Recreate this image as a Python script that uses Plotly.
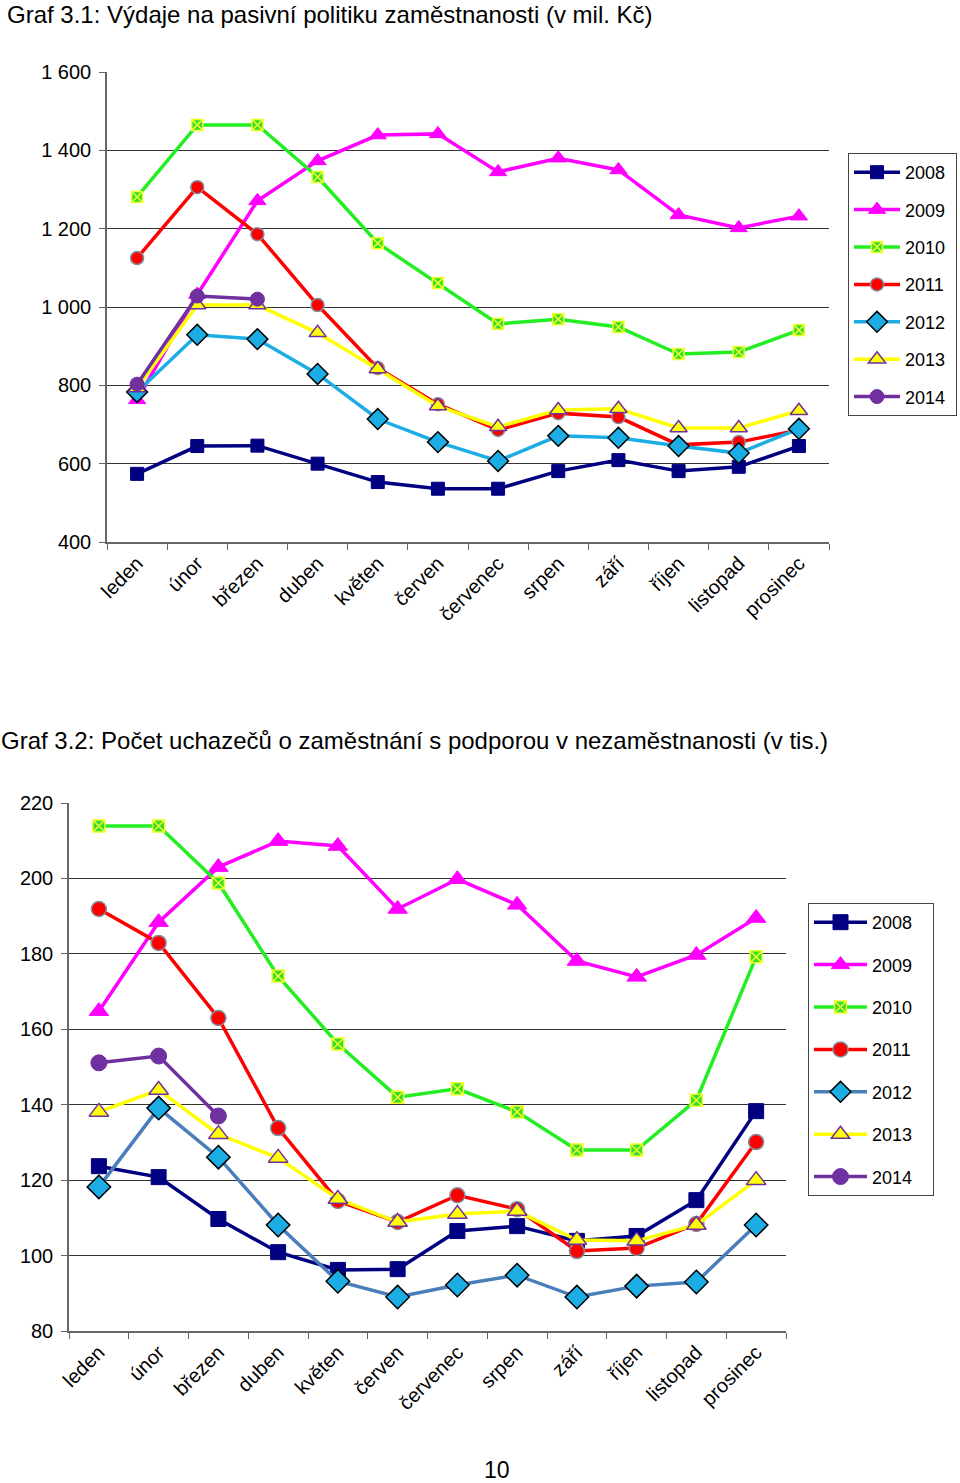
import plotly.graph_objects as go

months = ["leden", "únor", "březen", "duben", "květen", "červen", "červenec",
          "srpen", "září", "říjen", "listopad", "prosinec"]
years = ["2008", "2009", "2010", "2011", "2012", "2013", "2014"]

# Graf 3.1 – výdaje (mil. Kč)
exp_2008 = [574, 645, 646, 600, 553, 536, 536, 581, 609, 581, 592, 645]
exp_2009 = [763, 1032, 1271, 1373, 1439, 1442, 1345, 1380, 1350, 1235, 1202, 1232]
exp_2010 = [1281, 1465, 1465, 1332, 1163, 1061, 957, 969, 949, 880, 885, 941]
exp_2011 = [1125, 1306, 1186, 1005, 844, 752, 686, 729, 719, 648, 655, 686]
exp_2012 = [783, 929, 918, 829, 714, 655, 607, 671, 666, 645, 627, 689]
exp_2013 = [793, 1005, 1005, 934, 842, 747, 694, 737, 740, 691, 691, 735]
exp_2014 = [803, 1028, 1020]

# Graf 3.2 – uchazeči (tis.)
cnt_2008 = [123.7, 120.8, 109.7, 100.9, 96.2, 96.4, 106.5, 107.8, 103.9, 105.2, 114.7, 138.3]
cnt_2009 = [164.8, 188.4, 203.0, 209.9, 208.6, 191.9, 199.8, 193.0, 178.1, 173.9, 179.7, 189.5]
cnt_2010 = [213.9, 213.9, 198.8, 174.1, 156.1, 142.0, 144.2, 138.1, 128.0, 128.0, 141.2, 179.2]
cnt_2011 = [191.9, 182.9, 163.0, 133.8, 114.5, 108.9, 116.0, 112.3, 101.2, 102.0, 108.4, 130.1]
cnt_2012 = [118.2, 139.1, 126.1, 108.1, 93.2, 89.0, 92.2, 94.8, 89.0, 91.9, 93.0, 108.1]
cnt_2013 = [138.1, 143.9, 132.2, 125.9, 115.0, 108.9, 111.0, 111.8, 104.1, 103.9, 108.1, 120.0]
cnt_2014 = [151.1, 152.9, 137.0]

y1_ticks = [400, 600, 800, 1000, 1200, 1400, 1600]
y1_labels = ["400", "600", "800", "1 000", "1 200", "1 400", "1 600"]
y2_ticks = [80, 100, 120, 140, 160, 180, 200, 220]

title1 = "Graf 3.1: Výdaje na pasivní politiku zaměstnanosti (v mil. Kč)"
title2 = "Graf 3.2: Počet uchazečů o zaměstnání s podporou v nezaměstnanosti (v tis.)"

FONT = "Liberation Sans, Arial, sans-serif"
NB = "\u00a0"

styles = {
    "2008": dict(line="#000080", symbol="square", mcolor="#000080", mline="#000080", mlw=1, size=13),
    "2009": dict(line="#FF00FF", symbol="triangle-up", mcolor="#FF00FF", mline="#FF00FF", mlw=1, size=15),
    "2010": dict(line="#22EE22", symbol="square-x", mcolor="#33DD33", mline="#EEFF22", mlw=1.5, size=11),
    "2011": dict(line="#FF0000", symbol="circle", mcolor="#FF0000", mline="#7F8F9F", mlw=1.5, size=13),
    "2012": dict(line="#1CADE4", symbol="diamond", mcolor="#1CADE4", mline="#000000", mlw=1.5, size=16),
    "2013": dict(line="#FFFF00", symbol="triangle-up", mcolor="#FFFF00", mline="#7030A0", mlw=1.5, size=15),
    "2014": dict(line="#7030A0", symbol="circle", mcolor="#7030A0", mline="#7030A0", mlw=1, size=14),
}

W, H = 960, 1483

def px(v):
    return v / W

def py(v):
    return 1 - v / H

fig = go.Figure()

series1 = [exp_2008, exp_2009, exp_2010, exp_2011, exp_2012, exp_2013, exp_2014]
series2 = [cnt_2008, cnt_2009, cnt_2010, cnt_2011, cnt_2012, cnt_2013, cnt_2014]

for yr, vals in zip(years, series1):
    s = styles[yr]
    fig.add_trace(go.Scatter(
        x=months[:len(vals)], y=vals, name=yr + NB, mode="lines+markers",
        line=dict(color=s["line"], width=3.5),
        marker=dict(symbol=s["symbol"], size=s["size"], color=s["mcolor"],
                    line=dict(color=s["mline"], width=s["mlw"])),
        xaxis="x", yaxis="y", legend="legend", legendgroup="a" + yr))

for yr, vals in zip(years, series2):
    s = dict(styles[yr])
    if yr == "2012":
        s["line"] = "#4A7EBB"
    fig.add_trace(go.Scatter(
        x=months[:len(vals)], y=vals, name=yr + NB * 3, mode="lines+markers",
        line=dict(color=s["line"], width=3.5),
        marker=dict(symbol=s["symbol"], size=round(s["size"] * 1.12), color=s["mcolor"],
                    line=dict(color=s["mline"], width=s["mlw"])),
        xaxis="x2", yaxis="y2", legend="legend2", legendgroup="b" + yr))

xcommon = dict(type="category", categoryorder="array", categoryarray=months,
               showline=True, linecolor="#666666", linewidth=1.5,
               ticks="outside", tickson="boundaries", ticklen=6, tickcolor="#666666",
               tickangle=-45, showgrid=False, zeroline=False,
               tickfont=dict(family=FONT, size=20, color="#000000"),
               range=[-0.5, 11.5])
ycommon = dict(showline=True, linecolor="#666666", linewidth=1.5,
               ticks="outside", ticklen=6, tickcolor="#666666",
               showgrid=True, gridcolor="#333333", gridwidth=1, zeroline=False,
               ticklabelstandoff=4,
               tickfont=dict(family=FONT, size=20, color="#000000"))

legcommon = dict(xanchor="left", yanchor="top", bordercolor="#444444", borderwidth=1,
                 bgcolor="white", font=dict(family=FONT, size=18, color="#000000"))

fig.update_layout(
    width=W, height=H, margin=dict(l=0, r=0, t=0, b=0, pad=0, autoexpand=False),
    paper_bgcolor="white", plot_bgcolor="white",
    font=dict(family=FONT, color="#000000"),
    xaxis=dict(domain=[px(107), px(829)], anchor="y", **xcommon),
    yaxis=dict(domain=[py(542), py(72)], anchor="x", range=[400, 1600],
               tickvals=y1_ticks, ticktext=y1_labels, **ycommon),
    xaxis2=dict(domain=[px(69), px(786)], anchor="y2", **xcommon),
    yaxis2=dict(domain=[py(1331), py(803)], anchor="x2", range=[80, 220],
                tickvals=y2_ticks, **ycommon),
    legend=dict(x=px(848), y=py(153), tracegroupgap=11, itemwidth=46, **legcommon),
    legend2=dict(x=px(808), y=py(903), tracegroupgap=16, itemwidth=53, **legcommon),
    showlegend=True,
    annotations=[
        dict(text=title1, x=px(5), y=py(14), xref="paper", yref="paper",
             xanchor="left", yanchor="middle", showarrow=False,
             font=dict(family=FONT, size=24, color="#000000")),
        dict(text=title2, x=px(-1), y=py(740), xref="paper", yref="paper",
             xanchor="left", yanchor="middle", showarrow=False,
             font=dict(family=FONT, size=24, color="#000000")),
        dict(text="10", x=px(497), y=py(1470), xref="paper", yref="paper",
             xanchor="center", yanchor="middle", showarrow=False,
             font=dict(family=FONT, size=23, color="#000000")),
    ],
)

fig.write_html("out.html")
